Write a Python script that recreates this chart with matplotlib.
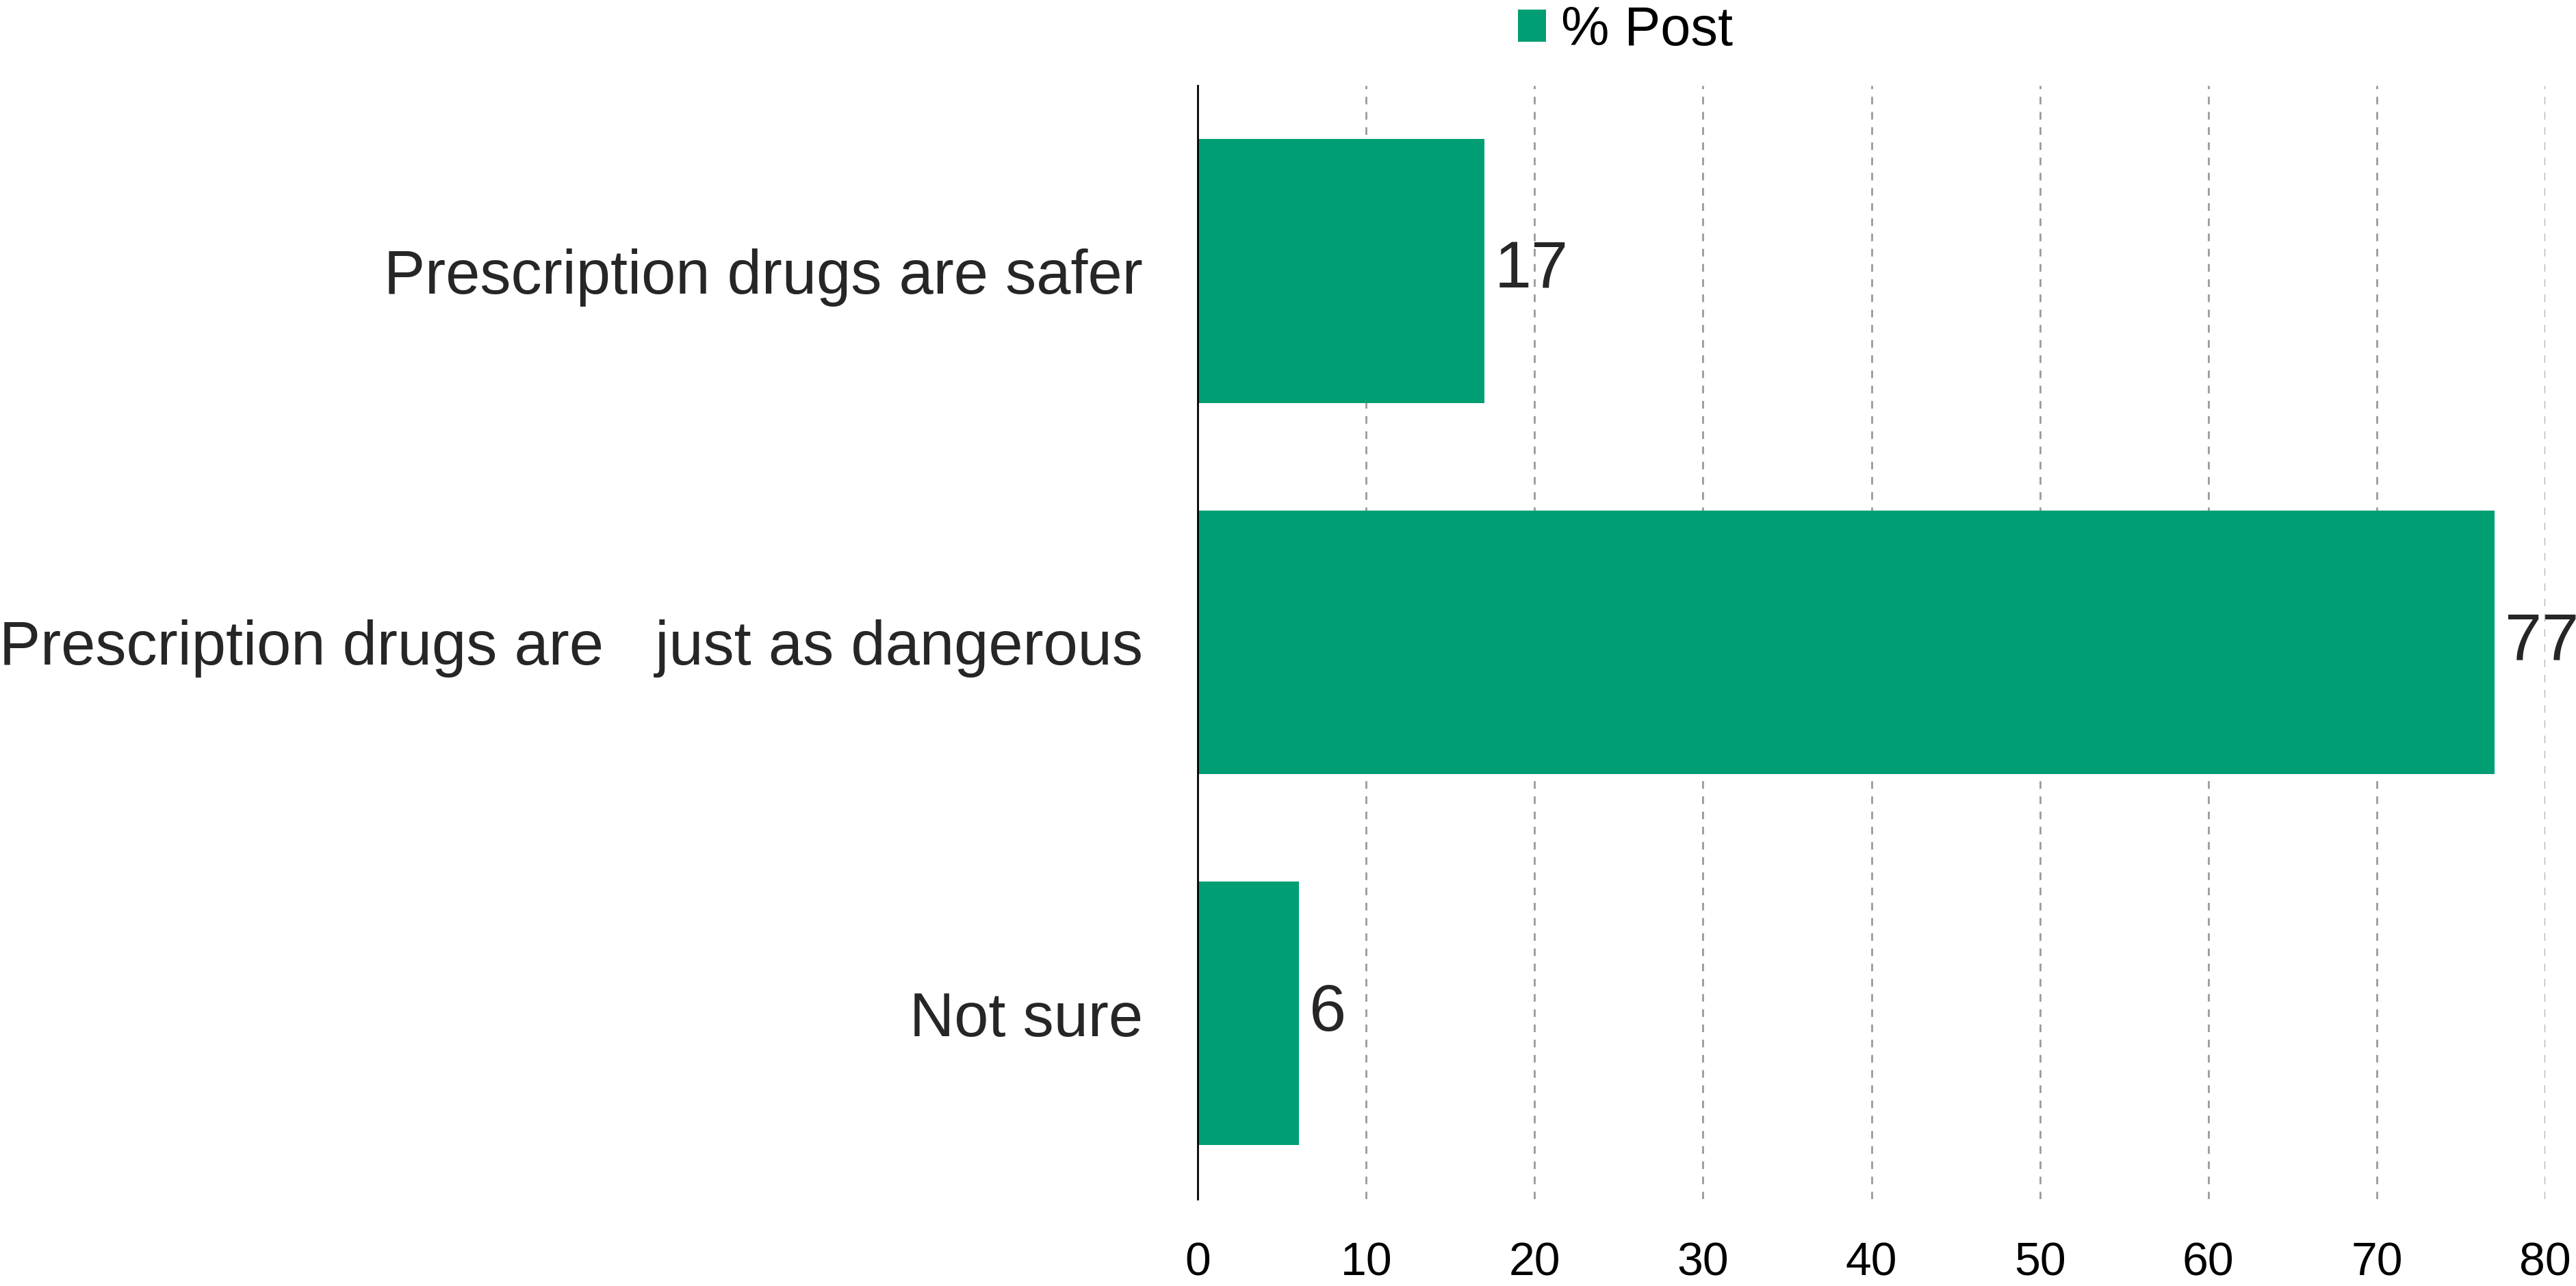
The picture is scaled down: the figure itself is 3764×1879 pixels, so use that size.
import matplotlib
matplotlib.use("Agg")
from matplotlib import pyplot as plt
from matplotlib.patches import Patch

categories = ["Prescription drugs are safer",
              "Prescription drugs are   just as dangerous",
              "Not sure"]
post_pct = [17, 77, 6]
xticks = [0, 10, 20, 30, 40, 50, 60, 70, 80]
series_name = "% Post"
bar_color = "#029E73"

plt.rcParams['font.family'] = ['Liberation Sans', 'DejaVu Sans']

fig = plt.figure(figsize=(37.64, 18.79), dpi=100)
ax = fig.add_axes([0.465, 0.0676, 0.523, 0.866])

ypos = list(range(len(categories)))
bars = ax.barh(ypos, post_pct, height=0.71, color=bar_color, zorder=3)

# value labels just right of each bar
for b, v in zip(bars, post_pct):
    ax.text(b.get_width() + 0.6, b.get_y() + b.get_height() / 2, str(v),
            va='center', ha='left', fontsize=70, color='#262626', zorder=4)

ax.set_xlim(0, 80)
ax.set_ylim(2.5, -0.5)
ax.set_yticks(ypos)
ax.set_yticklabels(categories, fontsize=65, color='#262626')
ax.set_xticks(xticks)
ax.set_xticklabels([str(t) for t in xticks], fontsize=49, color='black')
ax.tick_params(axis='y', length=0, pad=58)
ax.tick_params(axis='x', length=0, pad=44)

for s in ['top', 'right', 'bottom']:
    ax.spines[s].set_visible(False)
ax.spines['left'].set_color('black')
ax.spines['left'].set_linewidth(2)
ax.spines['left'].set_zorder(5)

for t in xticks[1:]:
    ax.axvline(t, color='#9a9a9a', linestyle=(0, (4, 4)), linewidth=2, zorder=1)

handle = Patch(facecolor=bar_color, edgecolor='none', label=series_name)
fig.legend(handles=[handle], loc='center', bbox_to_anchor=(0.631, 0.976),
           frameon=False, fontsize=57, handlelength=0.52, handleheight=0.52,
           handletextpad=0.27, borderpad=0, borderaxespad=0)

fig.savefig("out.png", dpi=100, facecolor='white')
